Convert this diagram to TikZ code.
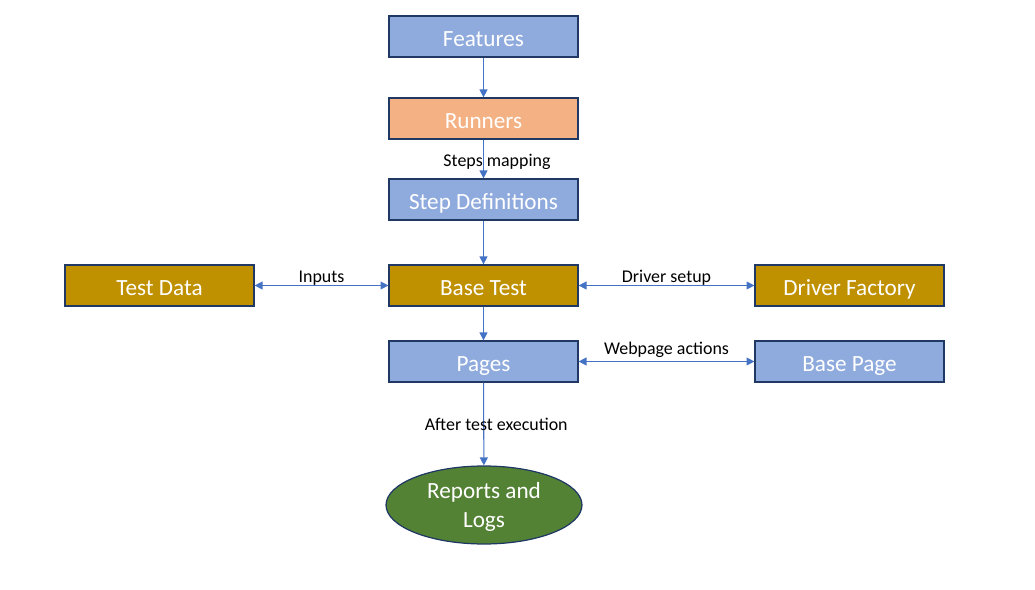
\documentclass[tikz,border=0pt]{standalone}
\usepackage{fontspec}
\setmainfont{Carlito}
\usepackage{xcolor}
\usepackage{tikz}
\usetikzlibrary{shapes,arrows,positioning,calc,arrows.meta}

\definecolor{boxblue}{HTML}{8FAADC}
\definecolor{boxorange}{HTML}{F4B183}
\definecolor{boxgold}{HTML}{BF9000}
\definecolor{boxgreen}{HTML}{548235}
\definecolor{boxline}{HTML}{1F3864}
\definecolor{linkblue}{HTML}{4472C4}

\tikzset{
    block/.style={draw=boxline, line width=0.7pt, minimum width=3.78cm, minimum height=0.82cm,
        text=white, font=\fontsize{13.2}{16}\selectfont, inner sep=0pt, text height=11.5pt, text depth=0pt},
    link/.style={draw=linkblue, line width=0.6pt, -{Triangle[width=4.5pt,length=4.5pt]}},
    twolink/.style={draw=linkblue, line width=0.6pt, {Triangle[width=4.5pt,length=4.5pt]}-{Triangle[width=4.5pt,length=4.5pt]}},
    tag/.style={font=\fontsize{10.2}{12}\selectfont, text=black, inner sep=1pt}
}

\begin{document}
\begin{tikzpicture}[x=0.02cm, y=-0.02cm]
    \useasboundingbox (0,0) rectangle (1035,590);

    % Main column
    \node[block, fill=boxblue] (feat) at (483.5,36.5) {Features};
    \node[block, fill=boxorange] (run) at (483.5,118.5) {Runners};
    \node[block, fill=boxblue] (stepdef) at (483.5,199.5) {Step Definitions};
    \node[block, fill=boxgold] (btest) at (483.5,285.5) {Base Test};
    \node[block, fill=boxblue] (pages) at (483.5,361.5) {Pages};
    \node[ellipse, draw=boxline, line width=0.7pt, fill=boxgreen, minimum width=3.92cm, minimum height=1.56cm,
        text=white, font=\fontsize{13.2}{16.5}\selectfont, align=center, inner sep=0pt] (report) at (484,505) {\\[-5pt]Reports and\\Logs};

    % Side boxes
    \node[block, fill=boxgold] (tdata) at (159.5,285.5) {Test Data};
    \node[block, fill=boxgold] (dfact) at (849.5,285.5) {Driver Factory};
    \node[block, fill=boxblue] (bpage) at (849.5,361.5) {Base Page};

    % Connectors
    \draw[link] (feat) -- (run);
    \draw[link] (run) -- node[tag, xshift=0.27cm, yshift=-0.05cm] {Steps mapping} (stepdef);
    \draw[link] (stepdef) -- (btest);
    \draw[link] (btest) -- (pages);
    \draw[link] (pages) -- node[tag, xshift=0.25cm] {After test execution} (report);
    \draw[twolink] (tdata) -- node[tag, above=-1.5pt] {Inputs} (btest);
    \draw[twolink] (btest) -- node[tag, above=-1.5pt] {Driver setup} (dfact);
    \draw[twolink] (pages) -- node[tag, above=1pt] {Webpage actions} (bpage);
\end{tikzpicture}
\end{document}
